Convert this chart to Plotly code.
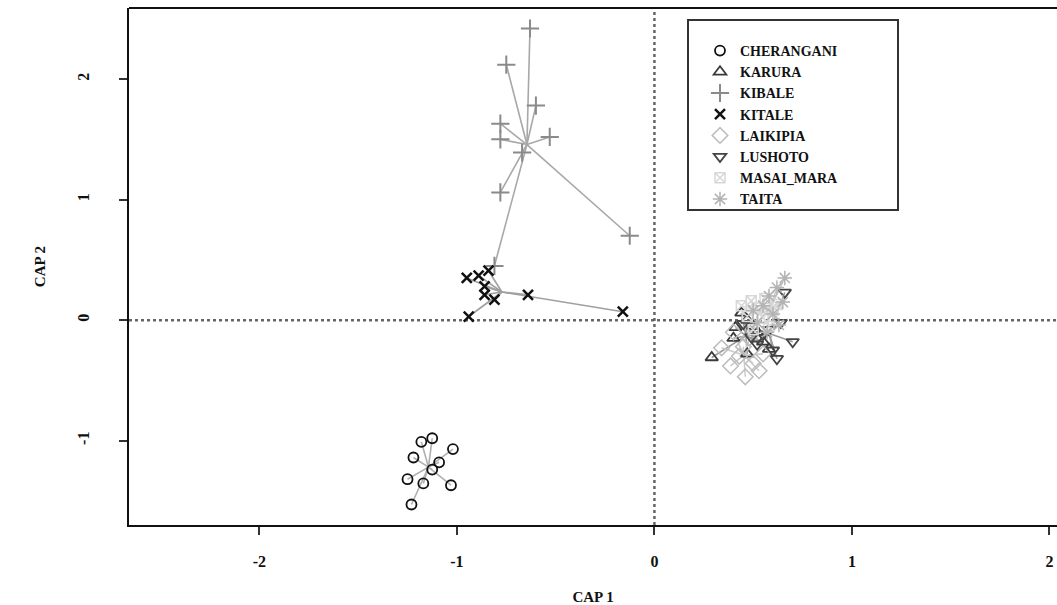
import numpy as np
import plotly.graph_objects as go

groups = ["CHERANGANI", "KARURA", "KIBALE", "KITALE", "LAIKIPIA", "LUSHOTO", "MASAI_MARA", "TAITA"]

cherangani_x = [-1.18, -1.125, -1.02, -1.22, -1.09, -1.125, -1.25, -1.17, -1.03, -1.23]
cherangani_y = [-1.01, -0.98, -1.07, -1.14, -1.18, -1.24, -1.32, -1.355, -1.37, -1.53]

karura_x = [0.44, 0.41, 0.29, 0.47, 0.47, 0.52, 0.55, 0.40, 0.50, 0.58]
karura_y = [0.06, -0.06, -0.31, -0.28, 0.00, -0.10, -0.18, -0.15, -0.05, -0.24]

kibale_x = [-0.63, -0.75, -0.60, -0.78, -0.78, -0.53, -0.67, -0.78, -0.125, -0.81]
kibale_y = [2.42, 2.12, 1.78, 1.63, 1.50, 1.52, 1.39, 1.06, 0.70, 0.45]

kitale_x = [-0.94, -0.16, -0.64, -0.81, -0.86, -0.86, -0.89, -0.95, -0.84]
kitale_y = [0.03, 0.07, 0.21, 0.17, 0.21, 0.28, 0.37, 0.35, 0.41]

laikipia_x = [0.34, 0.385, 0.46, 0.43, 0.50, 0.55, 0.48, 0.40, 0.53, 0.45]
laikipia_y = [-0.23, -0.38, -0.47, -0.30, -0.36, -0.28, -0.15, -0.10, -0.42, -0.22]

lushoto_x = [0.66, 0.64, 0.70, 0.62, 0.55, 0.52, 0.58, 0.49, 0.60, 0.45]
lushoto_y = [0.23, -0.02, -0.18, -0.32, -0.12, -0.20, -0.08, -0.14, -0.25, -0.03]

masai_mara_x = [0.49, 0.52, 0.55, 0.47, 0.60, 0.58, 0.50, 0.62, 0.44, 0.56]
masai_mara_y = [0.16, 0.10, 0.02, 0.03, 0.08, -0.05, -0.08, 0.13, 0.12, 0.18]

taita_x = [0.66, 0.62, 0.58, 0.55, 0.60, 0.52, 0.57, 0.63, 0.50, 0.65]
taita_y = [0.35, 0.27, 0.20, 0.12, 0.05, -0.02, -0.10, -0.04, 0.08, 0.15]

x_ticks = [-2, -1, 0, 1, 2]
y_ticks = [-1, 0, 1, 2]

data = {
    "CHERANGANI": (cherangani_x, cherangani_y),
    "KARURA": (karura_x, karura_y),
    "KIBALE": (kibale_x, kibale_y),
    "KITALE": (kitale_x, kitale_y),
    "LAIKIPIA": (laikipia_x, laikipia_y),
    "LUSHOTO": (lushoto_x, lushoto_y),
    "MASAI_MARA": (masai_mara_x, masai_mara_y),
    "TAITA": (taita_x, taita_y),
}

style = {
    "CHERANGANI": dict(symbol="circle-open", color="#111111", line="#b0b0b0", size=10, lw=1.8),
    "KARURA": dict(symbol="triangle-up-open", color="#3a3a3a", line="#9a9a9a", size=11, lw=1.8),
    "KIBALE": dict(symbol="cross-thin-open", color="#8a8a8a", line="#a8a8a8", size=13, lw=2),
    "KITALE": dict(symbol="x-thin-open", color="#111111", line="#a0a0a0", size=10, lw=2.5),
    "LAIKIPIA": dict(symbol="diamond-open", color="#bdbdbd", line="#cccccc", size=12, lw=1.5),
    "LUSHOTO": dict(symbol="triangle-down-open", color="#444444", line="#9a9a9a", size=11, lw=1.8),
    "MASAI_MARA": dict(symbol="square-x-open", color="#d8d8d8", line="#dddddd", size=10, lw=1.5),
    "TAITA": dict(symbol="asterisk-open", color="#b3b3b3", line="#c8c8c8", size=12, lw=1.5),
}

fig = go.Figure()

# spider lines to group centroids
for g in groups:
    xs, ys = data[g]
    cx, cy = float(np.mean(xs)), float(np.mean(ys))
    lx, ly = [], []
    for px, py_ in zip(xs, ys):
        lx += [cx, px, None]
        ly += [cy, py_, None]
    fig.add_trace(go.Scatter(x=lx, y=ly, mode="lines",
                             line=dict(color=style[g]["line"], width=1.6),
                             showlegend=False, hoverinfo="skip"))

for g in groups:
    xs, ys = data[g]
    s = style[g]
    fig.add_trace(go.Scatter(x=xs, y=ys, mode="markers", name=g,
                             marker=dict(symbol=s["symbol"], size=s["size"],
                                         color=s["color"],
                                         line=dict(color=s["color"], width=s["lw"]))))

font_family = "Liberation Serif, Times New Roman, serif"

# target plot area (page px): left 129, right 1057, top 8, bottom 525
W, H = 1057, 605
top, bottom = 8, 525
ph = bottom - top

def py(pix):
    return (bottom - pix) / ph

def px_(pix):
    return (pix - 129) / (1057 - 129)

fig.update_layout(
    width=W, height=H,
    margin=dict(l=129, r=0, t=top, b=H - bottom, pad=0),
    paper_bgcolor="white", plot_bgcolor="white",
    font=dict(family=font_family, size=16, color="#111111", weight="bold"),
    legend=dict(x=px_(700), y=py(35), xanchor="left", yanchor="top",
                borderwidth=0, bgcolor="rgba(0,0,0,0)",
                font=dict(family=font_family, size=14, weight="bold"),
                tracegroupgap=0, itemwidth=30),
    xaxis=dict(range=[-2.66, 2.038], tickvals=x_ticks, ticktext=[str(v) for v in x_ticks],
               showgrid=False, zeroline=False, showline=True, linecolor="#111111", linewidth=2,
               ticks="outside", ticklen=8, tickwidth=2, tickcolor="#333333",
               ticklabelstandoff=13, automargin=False,
               title=dict(text="CAP 1", standoff=28, font=dict(size=15, weight="bold"))),
    yaxis=dict(range=[-1.70, 2.59], tickvals=y_ticks, ticktext=[str(v) for v in y_ticks],
               showgrid=False, zeroline=False, showline=True, linecolor="#111111", linewidth=2,
               ticks="outside", ticklen=8, tickwidth=2, tickcolor="#333333",
               tickangle=-90, ticklabelstandoff=24, automargin=False,
               title=dict(text="CAP 2", standoff=25, font=dict(size=15, weight="bold"))),
    shapes=[
        dict(type="line", xref="paper", yref="paper", x0=0, x1=1, y0=1, y1=1,
             line=dict(color="#111111", width=2)),
        dict(type="line", xref="x", yref="paper", x0=0, x1=0, y0=0, y1=1,
             line=dict(color="#666666", width=2.5, dash="dot"), layer="below"),
        dict(type="line", xref="paper", yref="y", x0=0, x1=1, y0=0, y1=0,
             line=dict(color="#666666", width=2.5, dash="dot"), layer="below"),
        dict(type="rect", xref="paper", yref="paper",
             x0=px_(688), x1=px_(898), y0=py(210), y1=py(20),
             line=dict(color="#333333", width=2), fillcolor="white", layer="below"),
    ],
)

fig.write_html("out.html",
               config={"displayModeBar": False},
               post_script="document.body.style.margin='0';document.body.style.overflow='hidden';")
